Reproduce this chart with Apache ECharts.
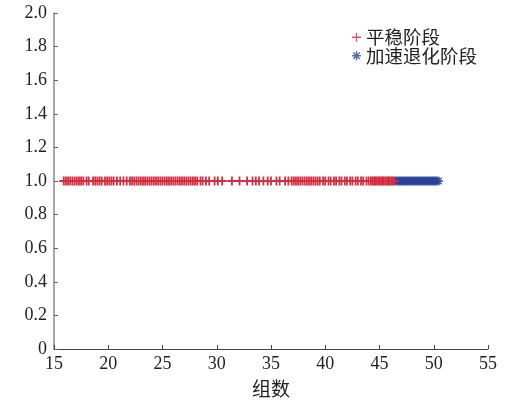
<!DOCTYPE html>
<html><head><meta charset="utf-8">
<script src="https://cdn.jsdelivr.net/npm/echarts@6/dist/echarts.min.js"></script>
<style>html,body{margin:0;padding:0;background:#fff}#c{width:511px;height:403px}</style>
</head><body><div id="c"></div>
<script>
// 平稳阶段 (stable stage) group positions, all at value 1.0
const stableX = [15.9,16.1,16.3,16.5,16.7,16.9,17.1,17.3,17.5,17.7,
  18.0,18.2,
  18.6,18.8,19.0,19.2,19.4,19.7,19.9,20.1,20.3,20.5,
  20.8,21.1,21.4,21.7,
  22.0,22.2,22.4,22.6,22.8,23.0,23.2,23.4,23.6,23.8,24.0,24.2,24.4,24.6,24.8,25.0,25.2,25.4,25.6,25.8,26.0,26.2,26.4,26.6,26.8,27.0,27.2,27.4,
  27.6,27.8,28.0,28.2,28.5,28.7,29.0,29.3,
  29.8,30.1,30.5,31.4,32.1,32.8,33.3,33.6,33.9,34.3,34.7,35.0,35.5,35.8,36.3,36.6,
  36.9,37.1,37.3,37.5,37.7,37.9,38.1,38.3,38.5,38.7,38.9,39.1,39.3,39.5,39.8,40.0,40.3,40.5,40.8,41.0,41.3,41.5,41.8,42.0,42.3,42.5,42.8,43.0,43.3,43.5,43.8,44.0,
  44.2,44.35,44.5,44.6,44.75,44.9,45.0,45.15,45.3,45.4,45.55,45.7,45.8,45.95,46.1,46.2,46.35];
const stableY = 1.0;
// 加速退化阶段 (accelerated degradation stage)
const degradeX = [46.5,46.6,46.7,46.8,46.9,47.0,47.1,47.2,47.3,47.4,47.5,47.6,47.7,47.8,47.9,48.0,48.1,48.2,48.3,48.4,
  48.5,48.6,48.7,48.8,48.9,49.0,49.1,49.2,49.3,49.4,49.5,49.6,49.7,49.8,49.9,50.0,50.1,50.2,50.3,50.45];
const degradeY = 1.0;
const seriesNames = ['平稳阶段','加速退化阶段'];
const xName = '组数';

const plusPath = 'path://M0,3.2 L8,3.2 L8,4.8 L0,4.8 Z M3.2,0 L4.8,0 L4.8,8 L3.2,8 Z';
const legendPlus = 'path://M0,3.4 L8,3.4 L8,4.6 L0,4.6 Z M3.4,0 L4.6,0 L4.6,8 L3.4,8 Z';
const starPath = 'path://M3.4,0 L4.6,0 L4.6,8 L3.4,8 Z M0,3.4 L8,3.4 L8,4.6 L0,4.6 Z M0.7,1.6 L1.6,0.7 L7.3,6.4 L6.4,7.3 Z M6.4,0.7 L7.3,1.6 L1.6,7.3 L0.7,6.4 Z';
const red = '#d42c40', blue = '#2b4499';
const serif = '"Liberation Serif","DejaVu Serif",serif';

const chart = echarts.init(document.getElementById('c'));
chart.setOption({
  animation:false,
  grid:{left:54,right:23,top:13,bottom:51},
  legend:{
    left:347, top:23, orient:'vertical', itemGap:0, itemWidth:9, itemHeight:9,
    textStyle:{fontFamily:'"Noto Sans CJK SC"',fontSize:18.5,color:'#222',padding:[0,0,0,0]},
    data:[{name:seriesNames[0],icon:legendPlus,itemStyle:{color:'#d9536a'}},{name:seriesNames[1],icon:starPath}]
  },
  xAxis:{type:'value',min:15,max:55,interval:5,
    name:xName,nameLocation:'middle',nameGap:30,
    nameTextStyle:{fontFamily:'"Noto Sans CJK SC"',fontSize:19,color:'#222'},
    axisLine:{lineStyle:{color:'#444',width:1}},
    axisTick:{inside:true,length:4,lineStyle:{color:'#444'}},
    axisLabel:{fontFamily:serif,fontSize:18,color:'#222',margin:6},
    splitLine:{show:false}},
  yAxis:{type:'value',min:0,max:2,interval:0.2,
    axisLine:{show:true,lineStyle:{color:'#888',width:1.5}},
    axisTick:{show:true,inside:true,length:4,lineStyle:{color:'#666'}},
    axisLabel:{fontFamily:serif,fontSize:18,color:'#222',margin:7,
      formatter:v=>v===0?'0':v.toFixed(1)},
    splitLine:{show:false}},
  series:[
    {name:seriesNames[0],type:'line',data:stableX.map(x=>[x,stableY]),
      symbol:plusPath,symbolSize:9,
      lineStyle:{color:red,width:1},itemStyle:{color:red},color:red},
    {name:seriesNames[1],type:'scatter',data:degradeX.map(x=>[x,degradeY]),
      symbol:starPath,symbolSize:9,itemStyle:{color:blue},color:blue}
  ]
});
</script></body></html>
